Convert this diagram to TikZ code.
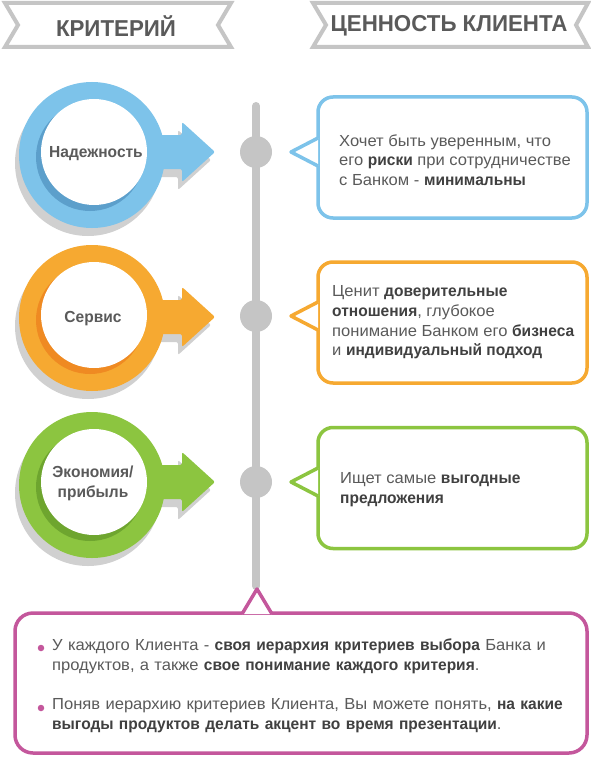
\documentclass[tikz,border=0pt]{standalone}
\usepackage{fontspec}
\setmainfont{Liberation Sans}[UprightFeatures={FakeStretch=1.035},BoldFeatures={FakeStretch=0.97}]
\definecolor{cblue}{HTML}{7DC3EA}
\definecolor{cblued}{HTML}{5C9FCB}
\definecolor{corange}{HTML}{F6A931}
\definecolor{coranged}{HTML}{EF8A22}
\definecolor{cgreen}{HTML}{8CC540}
\definecolor{cgreend}{HTML}{6EA52F}
\definecolor{cshadow}{HTML}{D0D0D0}
\definecolor{cline}{HTML}{C5C5C5}
\definecolor{cpink}{HTML}{C4579C}
\definecolor{ctext}{HTML}{5A5A5A}
\definecolor{cbold}{HTML}{404040}
\newcommand{\bd}[1]{{\bfseries\color{cbold}#1}}
\tikzset{
  banner/.style={draw=cline, line width=4pt, fill=white, line join=miter},
  bannertext/.style={font=\fontsize{23}{27}\selectfont\bfseries, text=ctext},
  ring/.style={circle, inner sep=0pt, minimum size=146pt},
  shadowring/.style={ring, fill=cshadow},
  innerdark/.style={circle, inner sep=0pt, minimum size=108pt},
  innerwhite/.style={circle, inner sep=0pt, minimum size=106pt, fill=white},
  critlabel/.style={font=\fontsize{16}{20}\selectfont\bfseries, text=ctext, align=center},
  dot/.style={circle, fill=cline, inner sep=0pt, minimum size=32pt},
  cbox/.style={rectangle, rounded corners=15pt, line width=3.5pt, fill=white, minimum width=269pt, minimum height=121pt},
  cpointer/.style={line width=3.5pt, fill=white, line join=round},
  ctextstyle/.style={font=\fontsize{16}{19.7}\selectfont, text=ctext, align=left, anchor=west, inner sep=0pt},
  btext/.style={font=\fontsize{16}{20.5}\selectfont, text=ctext, align=left, anchor=north west, inner sep=0pt, text width=530pt},
  bullet/.style={circle, fill=cpink, inner sep=0pt, minimum size=6.5pt},
}
\begin{document}
\begin{tikzpicture}[x=1pt,y=-1pt]
\useasboundingbox (0,0) rectangle (591,757);
\fill[white] (0,0) rectangle (591,757);

% banners
\draw[banner] (5,3) -- (231,3) -- (218,25) -- (231,47) -- (5,47) -- (18,25) -- cycle;
\node[bannertext] (h1) at (116,26) {КРИТЕРИЙ};
\draw[banner] (313,3) -- (588,3) -- (576,25) -- (588,47) -- (313,47) -- (326,25) -- cycle;
\node[bannertext] (h2) at (449,26) {ЦЕННОСТЬ КЛИЕНТА};

% vertical line
\draw[cline, line width=8pt, line cap=round] (256,106) -- (256,586);
\node[dot] (d1) at (256,152) {};
\node[dot] (d2) at (256,316) {};
\node[dot] (d3) at (256,482) {};

% criterion circles: #1 center y, #2 tip y, #3 colour, #4 dark colour, #5 name
\newcommand{\critcircle}[5]{%
  \begin{scope}[shift={(-4,8)}]
    \node[shadowring] (#5s) at (92,#1) {};
    \fill[cshadow, rounded corners=2pt] (140,#2-17) -- (182,#2-17) -- (182,#2-30) -- (215,#2) -- (182,#2+30) -- (182,#2+17) -- (140,#2+17) -- cycle;
  \end{scope}
  \fill[#3, rounded corners=2pt] (140,#2-17) -- (182,#2-17) -- (182,#2-30) -- (215,#2) -- (182,#2+30) -- (182,#2+17) -- (140,#2+17) -- cycle;
  \node[ring, fill=#3] (#5) at (92,#1) {};
  \node[innerdark, fill=#4] (#5d) at (90,#1+2) {};
  \node[innerwhite] (#5w) at (94,#1-3) {};
}
\critcircle{155}{152}{cblue}{cblued}{c1}
\critcircle{318}{317}{corange}{coranged}{c2}
\critcircle{485}{482}{cgreen}{cgreend}{c3}
\node[critlabel] (l1) at (96,154) {Надежность};
\node[critlabel] (l2) at (93,319) {Сервис};
\node[critlabel] (l3) at (93,483) {Экономия/\\прибыль};

% callouts
\node[cbox, draw=cblue] (b1) at (452.5,157.5) {};
\coordinate (t1) at (291,152);
\draw[cpointer, draw=cblue] (318,138) -- (t1) -- (318,166);
\node[ctextstyle] (x1) at (339,160) {Хочет быть уверенным, что\\его \bd{риски} при сотрудничестве\\с Банком - \bd{минимальны}};

\node[cbox, draw=corange] (b2) at (452.5,322.5) {};
\coordinate (t2) at (291,316);
\draw[cpointer, draw=corange] (318,302) -- (t2) -- (318,330);
\node[ctextstyle] (x2) at (332,322.5) {Ценит \bd{доверительные}\\\bd{отношения}, глубокое\\понимание Банком его \bd{бизнеса}\\и \bd{индивидуальный подход}};

\node[cbox, draw=cgreen] (b3) at (452.5,488) {};
\coordinate (t3) at (291,482);
\draw[cpointer, draw=cgreen] (318,468) -- (t3) -- (318,496);
\node[ctextstyle] (x3) at (340,490) {Ищет самые \bd{выгодные}\\\bd{предложения}};

% bottom box
\node[rectangle, rounded corners=18pt, line width=3.5pt, draw=cpink, fill=white, minimum width=572pt, minimum height=140pt] (bb) at (301,683) {};
\coordinate (tb) at (257,589);
\draw[cpointer, draw=cpink] (242,614) -- (tb) -- (272,614);
\node[bullet] (u1) at (41,648) {};
\node[bullet] (u2) at (41,708) {};
\node[btext] (y1) at (52,638.5) {У каждого Клиента - \bd{своя иерархия критериев выбора} Банка и\\продуктов, а также \bd{свое понимание каждого критерия}.};
\node[btext] (y2) at (52,698) {Поняв иерархию критериев Клиента, Вы можете понять, \bd{на какие}\\\bd{выгоды продуктов делать акцент во время презентации}.};
\end{tikzpicture}
\end{document}
